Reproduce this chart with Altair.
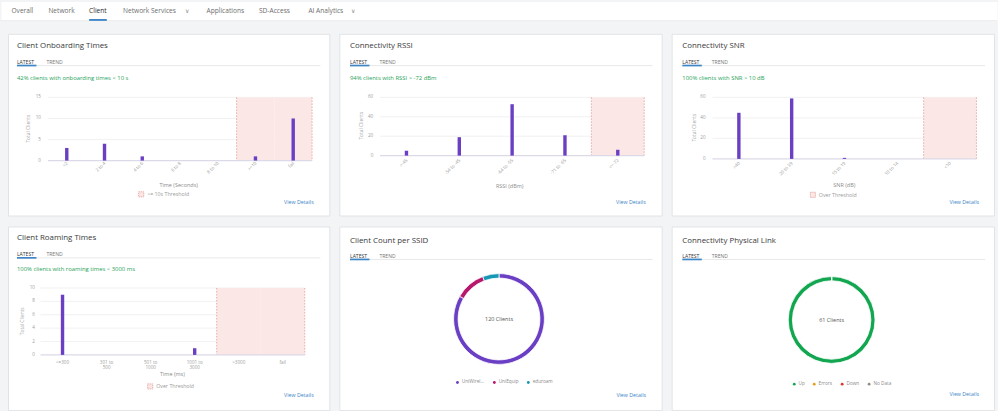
import altair as alt
import pandas as pd

FONT = "Open Sans"
BG = "#f3f4f6"
PURPLE = "#6a3fc4"
BLUE = "#3d85c6"
GREEN = "#1fa35a"
THR_FILL = "#fbe7e5"
THR_LINE = "#e39a95"

# ---------------- data ----------------
nav_tabs = ["Overall", "Network", "Client", "Network Services", "Applications", "SD-Access", "AI Analytics"]
nav_menu = [False, False, False, True, False, False, True]
active_tab = "Client"

onb_cats = ["<2", "2 to 4", "4 to 6", "6 to 8", "8 to 10", ">=10", "fail"]
onb_vals = [3, 4, 1, 0, 0, 1, 10]
onb_over = [">=10", "fail"]
onb_ticks = [0, 5, 10, 15]

rssi_cats = [">-45", "-54 to -45", "-64 to -55", "-71 to -65", "<=-72"]
rssi_vals = [5, 19, 53, 21, 6]
rssi_over = ["<=-72"]
rssi_ticks = [0, 20, 40, 60]

snr_cats = [">40", "20 to 39", "15 to 19", "10 to 14", "<10"]
snr_vals = [45, 59, 1, 0, 0]
snr_over = ["<10"]
snr_ticks = [0, 20, 40, 60]

roam_cats = ["<=300", "301 to 500", "501 to 1000", "1001 to 3000", ">3000", "fail"]
roam_labels = ["<=300", "301 to\n500", "501 to\n1000", "1001 to\n3000", ">3000", "fail"]
roam_vals = [9, 0, 0, 1, 0, 0]
roam_over = [">3000", "fail"]
roam_ticks = [0, 2, 4, 6, 8, 10]

ssid_names = ["UniWireless", "UniEquip", "eduroam"]
ssid_vals = [100, 13, 7]
ssid_colors = ["#6a3fc4", "#b8176e", "#1697b4"]

link_names = ["Up", "Errors", "Down", "No Data"]
link_vals = [61, 0, 0, 0]
link_colors = ["#13a650", "#e89b1c", "#d8352c", "#8c8c8c"]

# ---------------- layout (pixels) ----------------
nav_x = [10.5, 47.5, 88.3, 122.3, 206, 258.5, 308]
nav_chev_x = {3: 184, 6: 351}


def one():
    return alt.Chart(pd.DataFrame({"k": [0]}))


def label(s, x, y, size=6, color="#555", align="left", weight="normal", angle=0, baseline="middle"):
    return one().mark_text(align=align, baseline=baseline, fontSize=size, color=color,
                           font=FONT, fontWeight=weight, angle=angle).encode(
        x=alt.value(x), y=alt.value(y), text=alt.value(s))


def hline(x1, x2, y, color, width=1):
    return one().mark_rule(color=color, strokeWidth=width).encode(
        x=alt.value(x1), x2=alt.value(x2), y=alt.value(y))


def box(x1, x2, y1, y2, color):
    return one().mark_rect(color=color).encode(
        x=alt.value(x1), x2=alt.value(x2), y=alt.value(y1), y2=alt.value(y2))


def header(w, title, subtitle, x0, ty, ly, sy):
    layers = [
        label(title, x0, ty, 7.9, "#3a3a3a"),
        label("LATEST", x0, ly, 5.1, "#333333"),
        label("TREND", x0 + 29.5, ly, 5.1, "#777777"),
        hline(x0, w - 9, ly + 3.8, "#e3e3e3", 0.8),
        box(x0, x0 + 19.5, ly + 2.9, ly + 4.6, BLUE),
    ]
    if subtitle:
        layers.append(label(subtitle, x0, sy, 5.9, GREEN))
    return layers


def card_props(w, h):
    return dict(width=w, height=h,
                view=alt.ViewBackground(fill="white", stroke="#e1e3e6", strokeWidth=1))


def bar_card(w, h, hdr, cats, vals, over, ticks, xr, yr, tick_x, yt_xy, xl_y, xtitle, xt_xy,
             legend_label, legend_xy, details_xy, rotated=True, xlabels=None):
    df = pd.DataFrame({"cat": cats, "n": vals, "lbl": xlabels if xlabels else cats})
    df["over"] = df["cat"].isin(over)
    df["label"] = legend_label if legend_label else "Over Threshold"
    ymax = max(ticks)
    xs = alt.Scale(type="band", domain=cats, range=xr, paddingInner=0, paddingOuter=0)
    ys = alt.Scale(domain=[0, ymax], range=yr, nice=False)

    def X(**kw):
        return alt.X("cat:N", scale=xs, axis=None, sort=cats, **kw)

    def Y(f):
        return alt.Y(f, scale=ys, axis=None)

    base = alt.Chart(df)
    tdf = pd.DataFrame({"v": ticks})
    grid = alt.Chart(tdf).transform_filter("datum.v > 0").mark_rule(
        color="#eeeeee", strokeWidth=0.8).encode(y=Y("v:Q"), x=alt.value(xr[0]), x2=alt.value(xr[1]))
    baseline = alt.Chart(tdf).transform_filter("datum.v == 0").mark_rule(
        color="#dcdae8", strokeWidth=1.3).encode(y=Y("v:Q"), x=alt.value(xr[0]), x2=alt.value(xr[1]))

    if legend_label:
        leg = alt.Legend(title=None, orient="none", legendX=legend_xy[0], legendY=legend_xy[1],
                         symbolType="square", symbolSize=26, symbolStrokeColor=THR_LINE,
                         symbolStrokeWidth=0.8, symbolDash=[1.2, 0.8], labelFontSize=5.3,
                         labelColor="#9a9a9a", labelFont=FONT, labelOffset=3, padding=0)
    else:
        leg = None
    thr_base = base.transform_filter("datum.over").transform_calculate(top=str(ymax), bot="0")
    thr = thr_base.mark_rect().encode(
        x=X(), y=Y("top:Q"), y2="bot:Q",
        fill=alt.Fill("label:N", scale=alt.Scale(domain=[df["label"][0]], range=[THR_FILL]), legend=leg))
    edge_l = thr_base.transform_filter(alt.FieldEqualPredicate(field="cat", equal=over[0])).mark_rule(
        color=THR_LINE, strokeDash=[1.5, 1.5], strokeWidth=0.8).encode(
        x=X(bandPosition=0), y=Y("top:Q"), y2="bot:Q")
    edge_r = thr_base.transform_filter(alt.FieldEqualPredicate(field="cat", equal=over[-1])).mark_rule(
        color=THR_LINE, strokeDash=[1.5, 1.5], strokeWidth=0.8).encode(
        x=X(bandPosition=1), y=Y("top:Q"), y2="bot:Q")

    bars = base.mark_bar(size=3.4, color=PURPLE).encode(x=X(), y=Y("n:Q"))

    ylab = alt.Chart(tdf).mark_text(align="right", baseline="middle", fontSize=4.6,
                                    color="#9d9d9d", font=FONT).encode(
        y=Y("v:Q"), x=alt.value(tick_x), text="v:Q")
    if rotated:
        xlab = base.mark_text(angle=315, align="right", baseline="middle", fontSize=4.6,
                              color="#9d9d9d", font=FONT, dx=1).encode(
            x=X(bandPosition=0.5), y=alt.value(xl_y), text="lbl:N")
    else:
        xlab = base.mark_text(align="center", baseline="top", fontSize=4.6, lineBreak="\n",
                              lineHeight=4.6, color="#9d9d9d", font=FONT).encode(
            x=X(bandPosition=0.5), y=alt.value(xl_y), text="lbl:N")

    layers = hdr + [grid, thr, edge_l, edge_r, baseline, bars, ylab, xlab,
                    label("Total Clients", yt_xy[0], yt_xy[1], 4.9, "#a3a3a3", align="center", angle=270),
                    label(xtitle, xt_xy[0], xt_xy[1], 5.5, "#8c8c8c", align="center"),
                    label("View Details", details_xy[0], details_xy[1], 5.3, BLUE, align="right")]
    return alt.layer(*layers).properties(**card_props(w, h))


def donut_card(w, h, hdr, names, vals, colors, field, cx, cy, r_out, r_in, leg_xy, details_xy):
    df = pd.DataFrame({field: names, "n": vals, "i": list(range(len(names)))})
    leg = alt.Legend(title=None, orient="none", legendX=leg_xy[0], legendY=leg_xy[1],
                     direction="horizontal", symbolType="circle", symbolSize=8,
                     symbolStrokeWidth=0, labelFontSize=4.7, labelColor="#8a8a8a",
                     labelFont=FONT, labelOffset=2, columnPadding=7, padding=0, labelLimit=23)
    arc = alt.Chart(df).mark_arc(innerRadius=r_in, outerRadius=r_out, stroke="white",
                                 strokeWidth=0.8).encode(
        theta=alt.Theta("n:Q", stack=True),
        color=alt.Color(f"{field}:N", scale=alt.Scale(domain=names, range=colors), legend=leg),
        order=alt.Order("i:Q"),
        x=alt.value(cx), y=alt.value(cy))
    center = alt.Chart(df).transform_aggregate(total="sum(n)").transform_calculate(
        t="datum.total + ' Clients'").mark_text(fontSize=5.5, color="#555555", font=FONT).encode(
        x=alt.value(cx), y=alt.value(cy), text="t:N")
    layers = hdr + [arc, center,
                    label("View Details", details_xy[0], details_xy[1], 5.3, BLUE, align="right")]
    return alt.layer(*layers).properties(**card_props(w, h))


# ---------------- nav bar ----------------
nav_layers = [hline(0, 998, 19.5, "#e4e4e4", 1), box(88.3, 106, 17.6, 19.5, BLUE)]
for i, t in enumerate(nav_tabs):
    active = t == active_tab
    nav_layers.append(label(t, nav_x[i], 9.7, 6.6, "#2a2a2a" if active else "#6e6e6e",
                            weight=500 if active else "normal"))
    if nav_menu[i]:
        nav_layers.append(label("\u2228", nav_chev_x[i], 9.9, 6.0, "#8a8a8a"))
nav = alt.layer(*nav_layers).properties(
    width=998, height=20, view=alt.ViewBackground(fill="white", stroke="transparent"))


def spacer(w, h):
    return one().mark_rect(opacity=0).encode(
        x=alt.value(0), x2=alt.value(w), y=alt.value(0), y2=alt.value(h)).properties(
        width=w, height=h, view=alt.ViewBackground(stroke="transparent"))


W1, W2, W3 = 322, 323, 323
H1, H2 = 182, 184

c1 = bar_card(W1, H1, header(W1, "Client Onboarding Times", "42% clients with onboarding times < 10 s", 9, 12.5, 28, 44.2),
              onb_cats, onb_vals, onb_over, onb_ticks, [40, 304.7], [127, 63.7], 33, (21, 95), 130,
              "Time (Seconds)", (171, 151.3), ">= 10s Threshold", (130.5, 157.8), (306.3, 168.3))
c2 = bar_card(W2, H1, header(W2, "Connectivity RSSI", "94% clients with RSSI > -72 dBm", 10.7, 12.5, 28, 44.2),
              rssi_cats, rssi_vals, rssi_over, rssi_ticks, [40.8, 305.5], [122, 63.7], 34, (23, 92), 127,
              "RSSI (dBm)", (170.7, 152), None, (0, 0), (307, 168.3))
c3 = bar_card(W3, H1, header(W3, "Connectivity SNR", "100% clients with SNR > 10 dB", 10.7, 12.5, 28, 44.2),
              snr_cats, snr_vals, snr_over, snr_ticks, [40.9, 305.4], [125.3, 63.7], 34, (23, 94), 130,
              "SNR (dB)", (173, 151.3), "Over Threshold", (138.5, 158.3), (308, 168.3))
c4 = bar_card(W1, H2, header(W1, "Client Roaming Times", "100% clients with roaming times < 3000 ms", 9, 12, 27.7, 42.8),
              roam_cats, roam_vals, roam_over, roam_ticks, [32.6, 297.4], [128.7, 61.7], 27, (14.7, 95), 134.3,
              "Time (ms)", (164.7, 148), "Over Threshold", (139.5, 157.3), (306.3, 169), rotated=False,
              xlabels=roam_labels)
c5 = donut_card(W2, H2, header(W2, "Client Count per SSID", None, 10.7, 14.7, 29.3, 0),
                ssid_names, ssid_vals, ssid_colors, "ssid", 160, 92.7, 45.5, 41, (116, 153.5), (307.3, 169))
c6 = donut_card(W3, H2, header(W3, "Connectivity Physical Link", None, 10.7, 14.7, 29.3, 0),
                link_names, link_vals, link_colors, "link", 160.3, 93.7, 43.5, 39.3, (120.5, 155.2), (308, 168))


def row(a, b, c, h):
    return alt.hconcat(spacer(7, h), a, spacer(10, h), b, spacer(10, h), c,
                       spacing=0, bounds="flush").resolve_scale(
        color="independent", fill="independent", x="independent", y="independent",
        theta="independent").resolve_legend(color="independent", fill="independent")


rows = alt.vconcat(row(c1, c2, c3, H1), row(c4, c5, c6, H2), spacing=9).resolve_scale(
    color="independent", fill="independent").resolve_legend(color="independent", fill="independent")

chart = alt.vconcat(nav, rows, spacing=10.5).resolve_scale(
    color="independent", fill="independent").resolve_legend(
    color="independent", fill="independent").properties(
    padding=0, background=BG).configure_view(stroke="transparent")

chart.save("out.html", embed_options={"renderer": "svg", "actions": False})
